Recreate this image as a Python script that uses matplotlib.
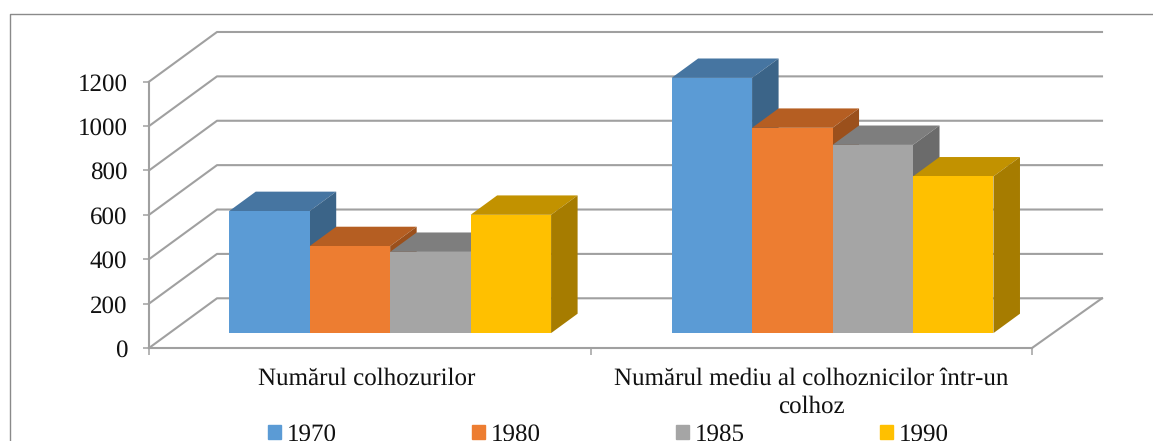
import matplotlib
matplotlib.use("Agg")
import matplotlib.pyplot as plt
from matplotlib.patches import Patch, Polygon
from matplotlib.lines import Line2D

plt.rcParams['font.family'] = ['Liberation Serif', 'DejaVu Serif']
plt.rcParams['text.hinting'] = 'none'
plt.rcParams['text.hinting_factor'] = 1

categories = ["Numărul colhozurilor", "Numărul mediu al colhoznicilor într-un\ncolhoz"]
years = ["1970", "1980", "1985", "1990"]
values = {
    "1970": [550, 1150],
    "1980": [392, 925],
    "1985": [366, 848],
    "1990": [533, 706],
}
y_ticks = [0, 200, 400, 600, 800, 1000, 1200]

front_colors = ["#5B9BD5", "#ED7D31", "#A5A5A5", "#FFC000"]
top_colors = ["#4675A1", "#B55E22", "#7E7E7E", "#C29200"]
side_colors = ["#3B6488", "#9B501C", "#6B6B6B", "#A67C00"]
grid_color = "#A0A0A0"
text_color = "#111111"

W, H = 1153, 441

# fake 3d: depth of the chart box in data units
depth_x = 68 / 441.5
depth_y = 224
wall_end = 2 + 70 / 441.5
bar_start = 0.30   # where the bars begin inside the box
bar_depth = 0.39
group_width = 0.729
bar_width = group_width / 4
group_centers = [0.5, 1.502]

fig = plt.figure(figsize=(W / 100, H / 100), dpi=100)
ax = fig.add_axes([149 / W, (H - 348) / H, 883 / W, 266.3 / H])
ax.set_xlim(0, 2)
ax.set_ylim(0, 1200)
ax.patch.set_alpha(0)

# floor and back wall
for v in y_ticks:
    ax.plot([0, depth_x, wall_end], [v, v + depth_y, v + depth_y],
            color=grid_color, lw=1.5, clip_on=False, zorder=1)
ax.plot([2, wall_end], [0, depth_y], color=grid_color, lw=1.5, clip_on=False, zorder=1)

# bars, left to right so each one covers the side of the previous one
for c in range(len(categories)):
    left = group_centers[c] - group_width / 2 + bar_start * depth_x
    base = bar_start * depth_y
    for i, year in enumerate(years):
        x0 = left + i * bar_width
        x1 = x0 + bar_width
        top = base + values[year][c]
        dx = bar_depth * depth_x
        dy = bar_depth * depth_y
        z = 3 + i + c * 10
        ax.bar(x0, values[year][c], bar_width, bottom=base, align="edge",
               color=front_colors[i], clip_on=False, zorder=z + 0.2)
        ax.add_patch(Polygon([(x0, top), (x1, top), (x1 + dx, top + dy), (x0 + dx, top + dy)],
                             color=top_colors[i], lw=0, clip_on=False, zorder=z))
        ax.add_patch(Polygon([(x1, base), (x1 + dx, base + dy), (x1 + dx, top + dy), (x1, top)],
                             color=side_colors[i], lw=0, clip_on=False, zorder=z))

for s in ["top", "right"]:
    ax.spines[s].set_visible(False)
for s in ["left", "bottom"]:
    ax.spines[s].set_color(grid_color)
    ax.spines[s].set_linewidth(1.5)
    ax.spines[s].set_zorder(2)

ax.set_yticks(y_ticks)
ax.tick_params(axis="y", length=4.3, width=1.1, color=grid_color, pad=11.2, labelsize=18, labelcolor=text_color)

# group boundaries get the tick marks, the labels sit between them
ax.set_xticks([0, 1, 2])
ax.set_xticklabels([])
ax.set_xticks([0.492, 1.5], minor=True)
ax.set_xticklabels(categories, minor=True, fontsize=18, color=text_color, linespacing=1.3)
ax.tick_params(axis="x", which="major", length=5, width=1.1, color=grid_color)
ax.tick_params(axis="x", which="minor", length=0, pad=14)

handles = [Patch(color=c) for c in front_colors]
fig.legend(handles, years, ncol=4, frameon=False, fontsize=18,
           loc="lower left", bbox_to_anchor=(268 / W, -5 / H), borderaxespad=0, borderpad=0,
           handlelength=0.5, handleheight=0.5, handletextpad=0.27, columnspacing=5.39,
           labelcolor=text_color)

# chart frame, cut off by the image on the right and at the bottom
fig.add_artist(Line2D([9.5 / W, 9.5 / W, 1], [0, (H - 13.5) / H, (H - 13.5) / H],
                      color="#8a8a8a", lw=1.0))

fig.savefig("out.png", dpi=100)
plt.close(fig)
